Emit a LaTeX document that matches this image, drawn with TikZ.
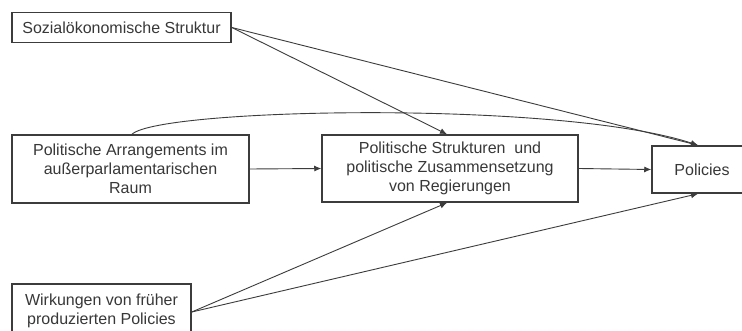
\documentclass[tikz,border=0pt]{standalone}
\usepackage{fontspec}
\setmainfont{Liberation Sans}
\usetikzlibrary{arrows.meta}
\definecolor{ink}{HTML}{383838}
\definecolor{edge}{HTML}{3C3C3C}
\begin{document}
\begin{tikzpicture}[x=1pt,y=-1pt,
  box/.style={draw=edge,line width=1.5pt,fill=white,align=center,text=ink,
    font=\fontsize{16pt}{19pt}\selectfont,inner sep=0pt},
  link/.style={draw=edge,line width=0.9pt,-{Latex[length=7pt,width=6pt]}},
  plain/.style={draw=edge,line width=0.9pt}]
\useasboundingbox (0,0) rectangle (742,331);
\fill[white] (0,0) rectangle (742,331);

% boxes
\node[box,minimum width=219pt,minimum height=30pt] (soz) at (121.5,27.5)
  {Sozialökonomische Struktur};
\node[box,minimum width=237pt,minimum height=68pt] (arr) at (130.5,169)
  {Politische Arrangements im\\außerparlamentarischen\\Raum};
\node[box,minimum width=256pt,minimum height=67pt] (mid) at (450,168.5)
  {Politische Strukturen\ \ und\\politische Zusammensetzung\\von Regierungen};
\node[box,minimum width=100pt,minimum height=47pt] (pol) at (702,169.5)
  {Policies};
\node[box,minimum width=179pt,minimum height=53pt] (wirk) at (101.5,310.5)
  {Wirkungen von früher\\produzierten Policies};

% connectors
\draw[link] (soz.east) -- ([xshift=-4pt]pol.north);
\draw[link] (soz.east) -- ([xshift=-3pt]mid.north);
\draw[link] ([xshift=1.5pt]arr.north) .. controls (160,108) and (560,100) .. ([xshift=-4pt]pol.north);
\draw[link] (arr.east) -- (mid.west);
\draw[link] (mid.east) -- (pol.west);
\draw[link] ([yshift=-1.5pt]wirk.east) -- ([xshift=-3pt]mid.south);
\draw[link] ([yshift=-1.5pt]wirk.east) -- ([xshift=-4pt]pol.south);
\end{tikzpicture}
\end{document}
